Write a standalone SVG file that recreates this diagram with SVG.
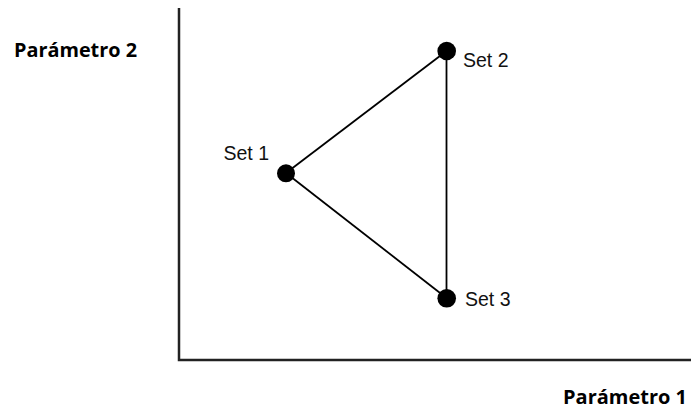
<svg xmlns="http://www.w3.org/2000/svg" width="691" height="409" viewBox="0 0 691 409">
<style>
.axis{fill:none;stroke:#222;stroke-width:2.5}
.edge{stroke:#000;stroke-width:1.8;fill:none}
.pt{fill:#000}
.lbl{font-family:"Liberation Sans",Arial,sans-serif;font-size:19.5px;fill:#111}
.ax{font-family:"Open Sans","Noto Sans",sans-serif;font-weight:bold;font-size:19px;fill:#000}
</style>
<rect width="691" height="409" fill="#fff"/>
<g id="axes">
<path class="axis" d="M179,8 V360 H691"/>
<text class="ax" x="14" y="56.5" textLength="123" lengthAdjust="spacingAndGlyphs">Parámetro 2</text>
<text class="ax" x="563" y="404" textLength="124" lengthAdjust="spacingAndGlyphs">Parámetro 1</text>
</g>
<g id="connectors">
<line class="edge" x1="286" y1="173" x2="446.5" y2="51"/>
<line class="edge" x1="286" y1="173" x2="446.5" y2="298"/>
<line class="edge" x1="446.5" y1="51" x2="446.5" y2="298"/>
</g>
<g id="set1">
<circle class="pt" cx="286" cy="173.3" r="9"/>
<text class="lbl" x="223.5" y="160">Set 1</text>
</g>
<g id="set2">
<circle class="pt" cx="446.7" cy="51" r="9.3"/>
<text class="lbl" x="463" y="67">Set 2</text>
</g>
<g id="set3">
<circle class="pt" cx="446.7" cy="298.3" r="9.3"/>
<text class="lbl" x="465" y="305.5">Set 3</text>
</g>
</svg>
